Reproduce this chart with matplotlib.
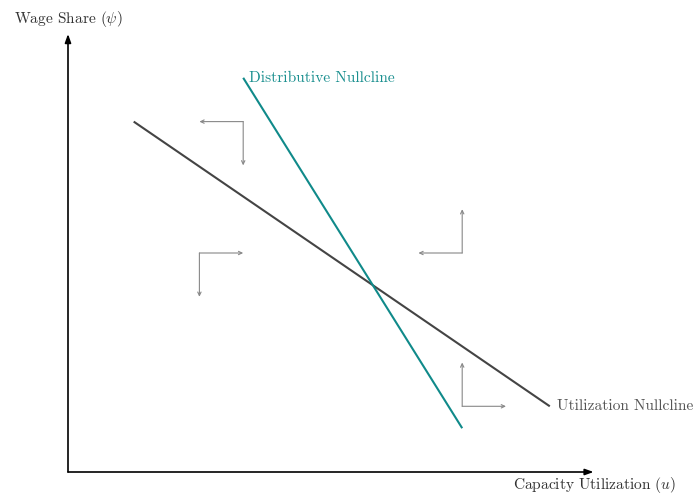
import matplotlib.pyplot as plt

plt.rcParams['font.family'] = 'serif'
plt.rcParams['font.serif'] = ['cmr10']
plt.rcParams['mathtext.fontset'] = 'cm'
plt.rcParams['axes.formatter.use_mathtext'] = True

# nullcline end points (u, psi)
util_u = [1.5, 11.0]
util_psi = [8.0, 1.5]
dist_u = [4.0, 9.0]
dist_psi = [9.0, 1.0]

# phase arrows: corner point, then horizontal and vertical step
corners = [(4, 8), (3, 5), (9, 5), (9, 1.5)]
steps = [(-1, -1), (1, -1), (-1, 1), (1, 1)]

x_max, y_max = 12, 10

fig = plt.figure(figsize=(6.94, 4.98), dpi=100)
ax = fig.add_axes([0, 0, 1, 1])
# 43.8 px per unit, origin at (68, 472) px
unit, ox, oy = 43.8, 68, 472
ax.set_xlim(-ox / unit, (694 - ox) / unit)
ax.set_ylim(-(498 - oy) / unit, oy / unit)
ax.axis('off')

axis_kw = dict(arrowstyle='-|>,head_length=0.5,head_width=0.18', lw=1.2, color='black',
               shrinkA=0, shrinkB=0)
ax.annotate('', xy=(x_max, 0), xytext=(0, 0), arrowprops=axis_kw)
ax.annotate('', xy=(0, y_max), xytext=(0, 0), arrowprops=axis_kw)

ax.text(0, y_max + 0.35, r'Wage Share ($\psi$)', ha='center', va='center',
        fontsize=11.1, color='#333333')
ax.text(x_max + 1.88, -0.3, r'Capacity Utilization ($u$)', ha='right', va='center',
        fontsize=11.1, color='#333333')

ax.plot(util_u, util_psi, color='#444444', lw=1.5, solid_capstyle='butt')
ax.plot(dist_u, dist_psi, color='#108a8a', lw=1.5, solid_capstyle='butt')

ax.text(dist_u[0] + 0.14, dist_psi[0], 'Distributive Nullcline', ha='left', va='center',
        fontsize=11.1, color='#1a8f8f')
ax.text(util_u[1] + 0.17, util_psi[1], 'Utilization Nullcline', ha='left', va='center',
        fontsize=11.1, color='#555555')

arrow_kw = dict(arrowstyle='->,head_length=0.25,head_width=0.12', lw=0.8, color='#888888',
                shrinkA=0, shrinkB=0)
for (cx, cy), (dx, dy) in zip(corners, steps):
    ax.annotate('', xy=(cx + dx, cy), xytext=(cx, cy), arrowprops=arrow_kw)
    ax.annotate('', xy=(cx, cy + dy), xytext=(cx, cy), arrowprops=arrow_kw)

fig.savefig('out.png', dpi=100)
